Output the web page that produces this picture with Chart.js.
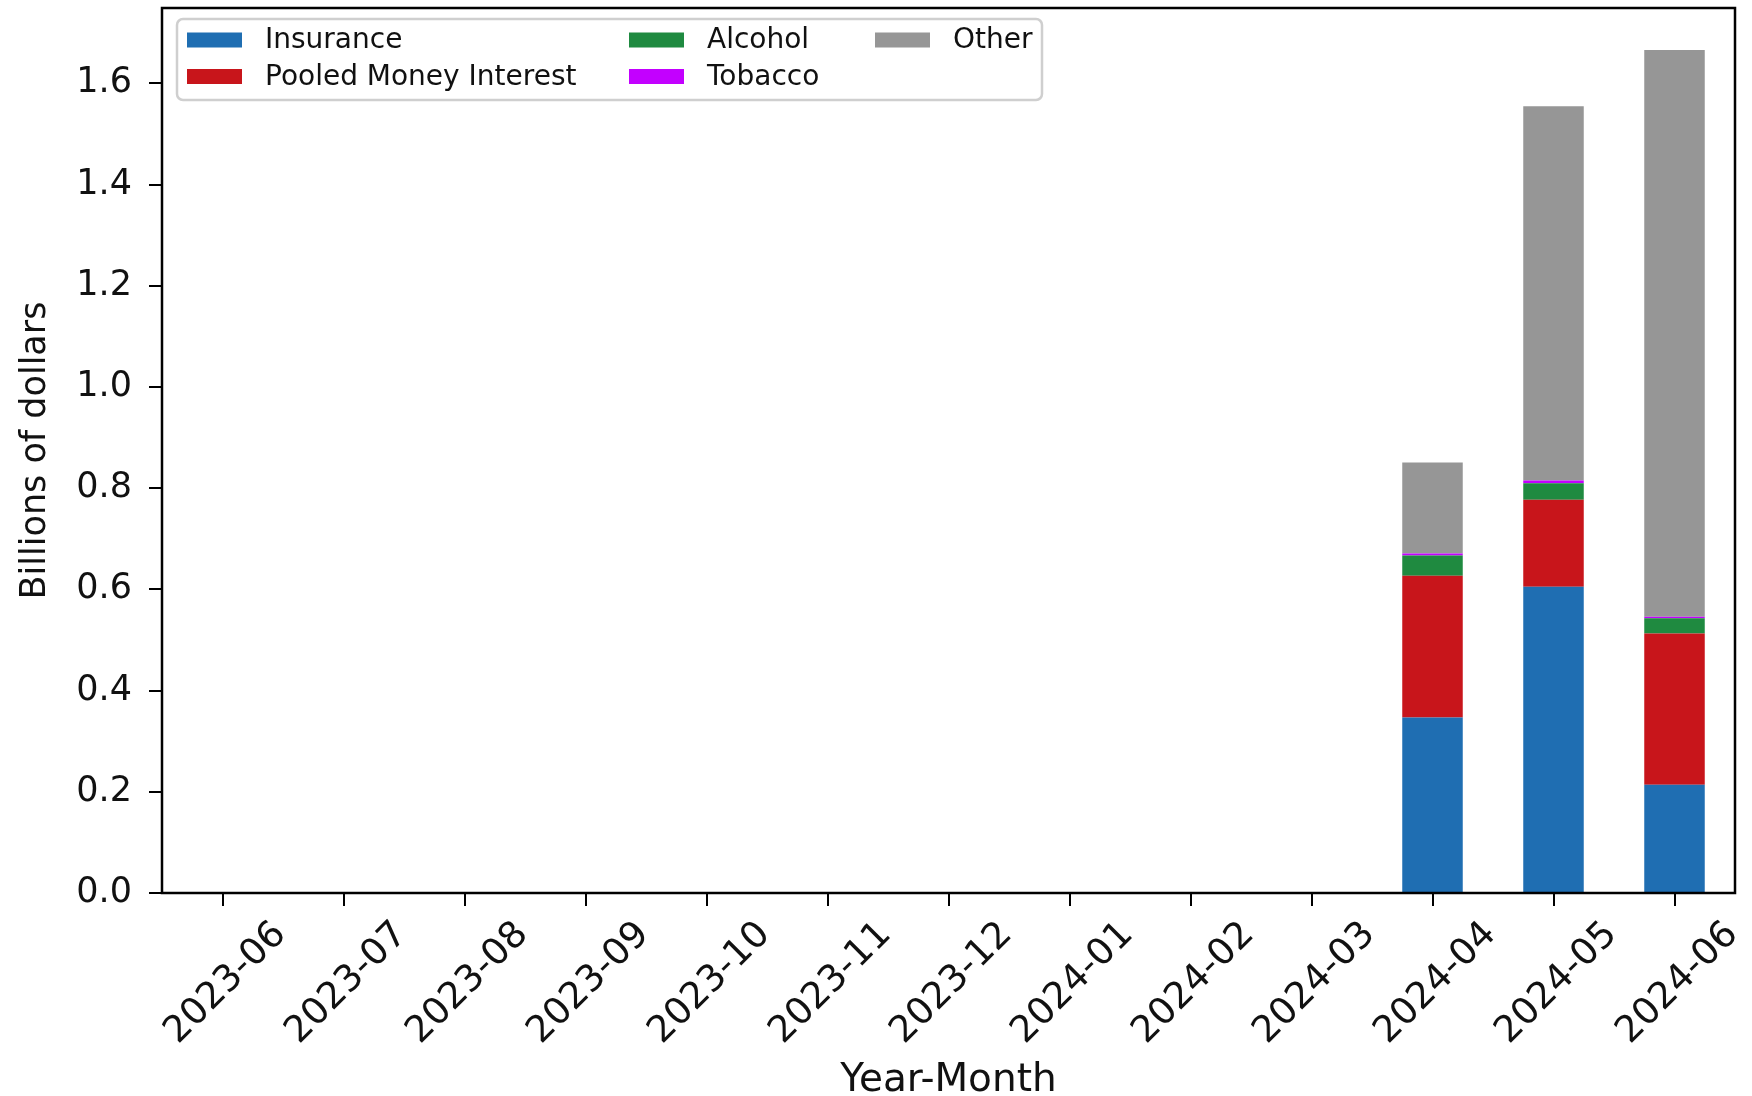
<!DOCTYPE html>
<html lang="en">
<head>
<meta charset="UTF-8">
<title>Revenue by Year-Month</title>
<script src="https://cdn.jsdelivr.net/npm/chart.js"></script>
<style>
    html, body { margin: 0; padding: 0; background: #fff; }
    #wrap { width: 1752px; height: 1096px; }
</style>
</head>
<body>
<div id="wrap"><canvas id="revChart"></canvas></div>
<script>
    // data (billions of dollars)
    const months = ['2023-06', '2023-07', '2023-08', '2023-09', '2023-10', '2023-11', '2023-12',
                    '2024-01', '2024-02', '2024-03', '2024-04', '2024-05', '2024-06'];
    const insurance      = [0, 0, 0, 0, 0, 0, 0, 0, 0, 0, 0.347, 0.605, 0.214];
    const pooledInterest = [0, 0, 0, 0, 0, 0, 0, 0, 0, 0, 0.280, 0.172, 0.299];
    const alcohol        = [0, 0, 0, 0, 0, 0, 0, 0, 0, 0, 0.040, 0.033, 0.030];
    const tobacco        = [0, 0, 0, 0, 0, 0, 0, 0, 0, 0, 0.004, 0.005, 0.003];
    const other          = [0, 0, 0, 0, 0, 0, 0, 0, 0, 0, 0.180, 0.740, 1.120];
    const yTicks = [0, 0.2, 0.4, 0.6, 0.8, 1.0, 1.2, 1.4, 1.6];
    const yMax = 1.749;

    // matplotlib style legend, drawn inside the plot area
    const legendBox = {
        id: 'legendBox',
        afterDraw(chart) {
            const ctx = chart.ctx;
            const sets = chart.data.datasets;
            const colX = [187, 629, 875];
            const rowY = [40, 76.5];
            ctx.save();
            ctx.beginPath();
            ctx.roundRect(177, 19, 865, 81, 6);
            ctx.fillStyle = 'rgba(255,255,255,0.8)';
            ctx.fill();
            ctx.strokeStyle = '#cfcfcf';
            ctx.lineWidth = 2.5;
            ctx.stroke();
            ctx.font = '28px "DejaVu Sans"';
            ctx.textBaseline = 'middle';
            sets.forEach((d, i) => {
                const x = colX[Math.floor(i / 2)];
                const y = rowY[i % 2];
                ctx.fillStyle = d.backgroundColor;
                ctx.fillRect(x, y - 7.5, 55, 15);
                ctx.fillStyle = '#111';
                ctx.fillText(d.label, x + 78, y + 1);
            });
            ctx.restore();
        }
    };

    // box around the axes
    const frame = {
        id: 'frame',
        afterDatasetsDraw(chart) {
            const a = chart.chartArea;
            const ctx = chart.ctx;
            ctx.save();
            ctx.strokeStyle = '#000';
            ctx.lineWidth = 2.5;
            ctx.strokeRect(a.left, a.top, a.right - a.left, a.bottom - a.top);
            ctx.restore();
        }
    };

    const ctx = document.getElementById('revChart').getContext('2d');
    const chart = new Chart(ctx, {
        type: 'bar',
        data: {
            labels: months,
            datasets: [
                { label: 'Insurance', data: insurance, backgroundColor: '#1f6eb2' },
                { label: 'Pooled Money Interest', data: pooledInterest, backgroundColor: '#c8151b' },
                { label: 'Alcohol', data: alcohol, backgroundColor: '#1f8a40' },
                { label: 'Tobacco', data: tobacco, backgroundColor: '#c300ff' },
                { label: 'Other', data: other, backgroundColor: '#969696' }
            ]
        },
        options: {
            responsive: true,
            maintainAspectRatio: false,
            animation: false,
            devicePixelRatio: 1,
            layout: { padding: { top: 8, right: 17, left: 0, bottom: 0 } },
            datasets: {
                bar: { barPercentage: 0.5, categoryPercentage: 1.0, borderWidth: 0 }
            },
            plugins: {
                legend: { display: false },
                tooltip: { enabled: false }
            },
            scales: {
                x: {
                    stacked: true,
                    afterFit: s => { s.height = 203; s.paddingLeft = 0; s.paddingRight = 0; },
                    border: { display: false },
                    grid: { offset: false, drawOnChartArea: false, drawTicks: true, tickLength: 13, color: '#000', lineWidth: 2 },
                    ticks: { color: '#111', font: { family: 'DejaVu Sans', size: 37 }, minRotation: 45, maxRotation: 45, padding: 7, labelOffset: 58, autoSkip: false },
                    title: { display: true, text: 'Year-Month', color: '#111', font: { family: 'DejaVu Sans', size: 39, lineHeight: 0.8 }, padding: { top: 0, bottom: 0 } }
                },
                y: {
                    stacked: true,
                    min: 0,
                    max: yMax,
                    afterFit: s => { s.width = 162; s.paddingTop = 0; s.paddingBottom = 0; },
                    afterBuildTicks: s => { s.ticks = yTicks.map(v => ({ value: v })); },
                    border: { display: false },
                    grid: { drawOnChartArea: false, drawTicks: true, tickLength: 13, color: '#000', lineWidth: 2 },
                    ticks: { color: '#111', font: { family: 'DejaVu Sans', size: 35 }, padding: 17, callback: v => v.toFixed(1) },
                    title: { display: true, text: 'Billions of dollars', color: '#111', font: { family: 'DejaVu Sans', size: 35 }, padding: { top: 15, bottom: 0 } }
                }
            }
        },
        plugins: [legendBox, frame]
    });
</script>
</body>
</html>
